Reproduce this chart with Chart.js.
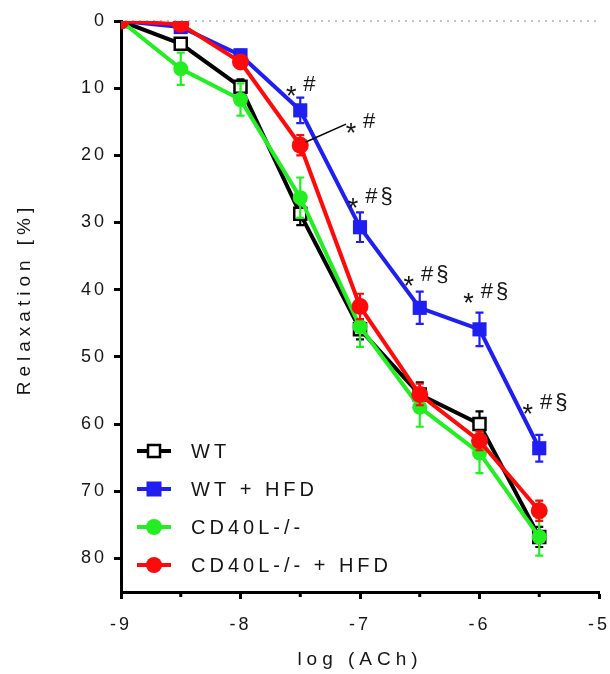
<!DOCTYPE html>
<html>
<head>
<meta charset="utf-8">
<script src="https://cdn.jsdelivr.net/npm/chart.js@4.4.1/dist/chart.umd.min.js"></script>
<style>
html,body{margin:0;padding:0;background:#fff;}
#wrap{width:610px;height:674px;position:relative;}
</style>
</head>
<body>
<div id="wrap"><canvas id="c" width="610" height="674"></canvas></div>
<script>
// ---- data ----
const logACh = [-9, -8.5, -8, -7.5, -7, -6.5, -6, -5.5];
const seriesLabels = ['WT', 'WT + HFD', 'CD40L-/-', 'CD40L-/- + HFD'];
const wtMean      = [0, 3.4, 9.8, 28.7, 45.9, 55.6, 60.0, 76.8];
const wtSem       = [0, 0.5, 1.1, 1.7, 1.5, 1.8, 1.9, 1.5];
const wtHfdMean   = [0, 0.9, 5.1, 13.3, 30.7, 42.7, 45.9, 63.6];
const wtHfdSem    = [0, 0.5, 0.8, 1.9, 2.2, 2.4, 2.5, 2.0];
const koMean      = [0, 7.1, 11.7, 26.3, 45.5, 57.5, 64.3, 76.8];
const koSem       = [0, 2.4, 2.4, 3.0, 3.0, 2.9, 3.0, 2.8];
const koHfdMean   = [0, 0.5, 6.1, 18.5, 42.5, 55.6, 62.5, 72.9];
const koHfdSem    = [0, 0.3, 0.8, 1.5, 1.9, 1.6, 1.4, 1.5];
const xTicks = [-9, -8, -7, -6, -5];
const xMinorTicks = [-8.5, -7.5, -6.5, -5.5];
const yTicks = [0, 10, 20, 30, 40, 50, 60, 70, 80];
// significance annotations (anchor of "*" in data units)
const annotX   = [-7.575, -7.075, -7.058, -6.592, -6.092, -5.597];
const annotY   = [10.3, 15.8, 27.0, 38.6, 41.1, 57.6];
const annotTxt = ['#', '#', '#§', '#§', '#§', '#§'];

const FONT = '"Liberation Sans", Arial, Helvetica, sans-serif';
const TXT = '#151515';

function pts(m){ return logACh.map((x,i)=>({x:x, y:m[i]})); }

const datasets = [
  {label: seriesLabels[0], data: pts(wtMean), sem: wtSem, borderColor:'#000000', backgroundColor:'#000000',
   pointStyle:'rect', pointRadius:8.5, pointBorderWidth:2.5, pointBackgroundColor:'#ffffff', pointBorderColor:'#000000', order:4, mk:'openSq'},
  {label: seriesLabels[1], data: pts(wtHfdMean), sem: wtHfdSem, borderColor:'#1f1ff2', backgroundColor:'#1f1ff2',
   pointStyle:'rect', pointRadius:10, pointBorderWidth:0, pointBackgroundColor:'#1f1ff2', order:3, mk:'sq'},
  {label: seriesLabels[2], data: pts(koMean), sem: koSem, borderColor:'#22ee22', backgroundColor:'#22ee22',
   pointStyle:'circle', pointRadius:7.5, pointBorderWidth:0, pointBackgroundColor:'#22ee22', order:2, mk:'circ'},
  {label: seriesLabels[3], data: pts(koHfdMean), sem: koHfdSem, borderColor:'#ff0a0a', backgroundColor:'#ff0a0a',
   pointStyle:'circle', pointRadius:8.5, pointBorderWidth:0, pointBackgroundColor:'#ff0a0a', order:1, mk:'circ'}
];
datasets.forEach(d=>{ d.borderWidth = 4; d.tension = 0; d.fill = false; d.pointHoverRadius = d.pointRadius; });

const spacingPlugin = {
  id:'spacing',
  beforeLayout(chart){ chart.ctx.letterSpacing = '3px'; },
  beforeDraw(chart){ chart.ctx.letterSpacing = '3px'; }
};

const errorBars = {
  id:'errorBars',
  beforeDatasetDraw(chart, args){
    const ds = chart.data.datasets[args.index];
    const xs = chart.scales.x, ys = chart.scales.y, ctx = chart.ctx;
    ctx.save();
    ctx.strokeStyle = ds.borderColor;
    ctx.lineWidth = 2.2;
    ds.data.forEach((p,i)=>{
      const s = ds.sem[i];
      if (!s) return;
      const px = xs.getPixelForValue(p.x);
      const y1 = ys.getPixelForValue(p.y - s), y2 = ys.getPixelForValue(p.y + s);
      ctx.beginPath();
      ctx.moveTo(px, y1); ctx.lineTo(px, y2);
      ctx.moveTo(px-4, y1); ctx.lineTo(px+4, y1);
      ctx.moveTo(px-4, y2); ctx.lineTo(px+4, y2);
      ctx.stroke();
    });
    ctx.restore();
  }
};

function drawMarker(ctx, ds, x, y){
  ctx.save();
  if (ds.mk === 'openSq'){
    ctx.fillStyle = '#fff'; ctx.strokeStyle = '#000'; ctx.lineWidth = 2.5;
    ctx.fillRect(x-6, y-6, 12, 12); ctx.strokeRect(x-6, y-6, 12, 12);
  } else if (ds.mk === 'sq'){
    ctx.fillStyle = ds.borderColor; ctx.fillRect(x-7.5, y-7.5, 15, 15);
  } else {
    ctx.fillStyle = ds.borderColor; ctx.beginPath(); ctx.arc(x, y, 8, 0, Math.PI*2); ctx.fill();
  }
  ctx.restore();
}

const deco = {
  id:'deco',
  beforeDatasetsDraw(chart){
    const {ctx, chartArea, scales} = chart;
    const y0 = scales.y.getPixelForValue(0);
    ctx.save();
    ctx.strokeStyle = '#c4c4c4'; ctx.lineWidth = 2; ctx.setLineDash([2,5]);
    ctx.beginPath(); ctx.moveTo(chartArea.left+4, y0); ctx.lineTo(chartArea.right, y0); ctx.stroke();
    ctx.restore();
  },
  afterDraw(chart){
    const {ctx, chartArea, scales} = chart;
    const xs = scales.x, ys = scales.y;
    ctx.save();
    // minor x ticks
    ctx.strokeStyle = '#000'; ctx.lineWidth = 3;
    xMinorTicks.forEach(v=>{
      const px = xs.getPixelForValue(v);
      ctx.beginPath(); ctx.moveTo(px, chartArea.bottom); ctx.lineTo(px, chartArea.bottom+5); ctx.stroke();
    });
    // axis titles
    ctx.fillStyle = TXT;
    ctx.letterSpacing = '5px';
    ctx.font = '19px ' + FONT;
    ctx.textAlign = 'center'; ctx.textBaseline = 'middle';
    ctx.fillText('log (ACh)', (chartArea.left+chartArea.right)/2, 660);
    ctx.save();
    ctx.translate(25, 299); ctx.rotate(-Math.PI/2);
    ctx.fillText('Relaxation [%]', 0, 0);
    ctx.restore();
    // annotations
    annotX.forEach((ax,i)=>{
      const px = xs.getPixelForValue(ax), py = ys.getPixelForValue(annotY[i]);
      ctx.textAlign = 'center'; ctx.textBaseline = 'alphabetic';
      ctx.letterSpacing = '0px';
      ctx.font = '27px ' + FONT;
      ctx.fillText('*', px, py + 15);
      ctx.letterSpacing = '3px';
      ctx.font = '22px ' + FONT;
      const t = annotTxt[i];
      const dx = t.length > 1 ? 26 : 18;
      ctx.fillText(t, px + dx + 1.5, py + 1);
    });
    // leader line for CD40L-/- + HFD at -7.5
    const rp = {x: xs.getPixelForValue(logACh[3]), y: ys.getPixelForValue(koHfdMean[3])};
    const ap = {x: xs.getPixelForValue(annotX[1]), y: ys.getPixelForValue(annotY[1])};
    ctx.strokeStyle = '#000'; ctx.lineWidth = 1.5;
    ctx.beginPath(); ctx.moveTo(rp.x+5, rp.y-3); ctx.lineTo(ap.x-5, ap.y-3); ctx.stroke();
    // legend
    const lx = chartArea.left + 16, step = 38;
    const baseY = chartArea.bottom - 27 - step*(datasets.length-1);
    ctx.font = '20px ' + FONT; ctx.letterSpacing = '4px';
    ctx.textAlign = 'left'; ctx.textBaseline = 'middle';
    datasets.forEach((ds,i)=>{
      const y = baseY + i*step;
      ctx.strokeStyle = ds.borderColor; ctx.lineWidth = 4;
      ctx.beginPath(); ctx.moveTo(lx, y); ctx.lineTo(lx+34, y); ctx.stroke();
      drawMarker(ctx, ds, lx+17, y);
      ctx.fillStyle = TXT;
      ctx.fillText(ds.label, lx+54, y+1);
    });
    ctx.restore();
  }
};

new Chart(document.getElementById('c'), {
  type:'line',
  data:{datasets: datasets},
  options:{
    responsive:false,
    animation:false,
    events:[],
    layout:{padding:{left:0, right:9, top:21, bottom:0}},
    plugins:{legend:{display:false}, tooltip:{enabled:false}, title:{display:false}},
    scales:{
      x:{type:'linear', min:-9, max:-5,
         afterBuildTicks(s){ s.ticks = xTicks.map(v=>({value:v})); },
         ticks:{font:{family:FONT, size:18}, color:TXT, padding:15, maxRotation:0, autoSkip:false,
                callback:(v)=>String(v)},
         grid:{drawOnChartArea:false, drawTicks:true, tickLength:7, tickWidth:3, tickColor:'#000'},
         border:{display:true, color:'#000', width:3},
         afterFit(s){ s.height = 82; s.paddingRight = 0; s.paddingLeft = 0; }},
      y:{type:'linear', min:0, max:85, reverse:true,
         afterBuildTicks(s){ s.ticks = yTicks.map(v=>({value:v})); },
         ticks:{font:{family:FONT, size:18}, color:TXT, padding:7, autoSkip:false,
                callback:(v)=>String(v)},
         grid:{drawOnChartArea:false, drawTicks:true, tickLength:7, tickWidth:3, tickColor:'#000'},
         border:{display:true, color:'#000', width:3},
         afterFit(s){ s.width = 121; s.paddingTop = 0; s.paddingBottom = 0; }}
    }
  },
  plugins:[spacingPlugin, errorBars, deco]
});
</script>
</body>
</html>
